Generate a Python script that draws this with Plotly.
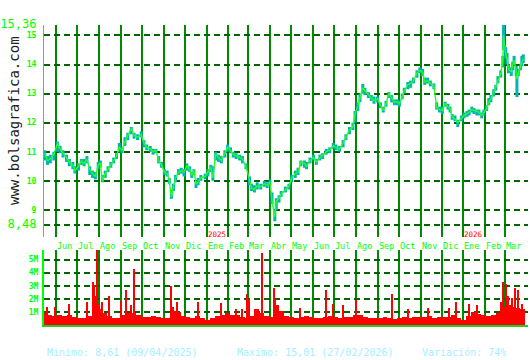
import plotly.graph_objects as go
import pandas as pd

# ---------------- data ----------------
price_dates = [
    "2024-05-16", "2024-05-20", "2024-05-24", "2024-05-29", "2024-06-03", "2024-06-07", "2024-06-11",
    "2024-06-16", "2024-06-20", "2024-06-25", "2024-06-28", "2024-07-03", "2024-07-07", "2024-07-11",
    "2024-07-15", "2024-07-19", "2024-07-23", "2024-07-27", "2024-07-31", "2024-08-03", "2024-08-06",
    "2024-08-10", "2024-08-14", "2024-08-18", "2024-08-22", "2024-08-26", "2024-08-30", "2024-09-03",
    "2024-09-07", "2024-09-11", "2024-09-16", "2024-09-20", "2024-09-25", "2024-09-30", "2024-10-04",
    "2024-10-08", "2024-10-13", "2024-10-17", "2024-10-21", "2024-10-25", "2024-10-29", "2024-11-02",
    "2024-11-06", "2024-11-09", "2024-11-12", "2024-11-15", "2024-11-18", "2024-11-22", "2024-11-26",
    "2024-11-30", "2024-12-04", "2024-12-08", "2024-12-11", "2024-12-14", "2024-12-17", "2024-12-20",
    "2024-12-24", "2024-12-30", "2025-01-03", "2025-01-07", "2025-01-10", "2025-01-14", "2025-01-18",
    "2025-01-22", "2025-01-27", "2025-01-31", "2025-02-04", "2025-02-08", "2025-02-12", "2025-02-17",
    "2025-02-21", "2025-02-26", "2025-03-03", "2025-03-06", "2025-03-10", "2025-03-14", "2025-03-19",
    "2025-03-24", "2025-03-28", "2025-04-01", "2025-04-04", "2025-04-08", "2025-04-10", "2025-04-14",
    "2025-04-17", "2025-04-23", "2025-04-28", "2025-05-02", "2025-05-07", "2025-05-11", "2025-05-15",
    "2025-05-20", "2025-05-23", "2025-05-28", "2025-06-02", "2025-06-06", "2025-06-11", "2025-06-15",
    "2025-06-20", "2025-06-25", "2025-06-30", "2025-07-04", "2025-07-09", "2025-07-14", "2025-07-18",
    "2025-07-23", "2025-07-28", "2025-07-31", "2025-08-04", "2025-08-07", "2025-08-11", "2025-08-14",
    "2025-08-19", "2025-08-23", "2025-08-27", "2025-09-01", "2025-09-05", "2025-09-09", "2025-09-13",
    "2025-09-17", "2025-09-21", "2025-09-25", "2025-09-29", "2025-10-02", "2025-10-06", "2025-10-09",
    "2025-10-14", "2025-10-18", "2025-10-22", "2025-10-27", "2025-10-31", "2025-11-04", "2025-11-07",
    "2025-11-11", "2025-11-15", "2025-11-20", "2025-11-24", "2025-11-28", "2025-12-02", "2025-12-06",
    "2025-12-10", "2025-12-13", "2025-12-16", "2025-12-20", "2025-12-24", "2025-12-29", "2026-01-02",
    "2026-01-06", "2026-01-09", "2026-01-13", "2026-01-16", "2026-01-20", "2026-01-23", "2026-01-27",
    "2026-01-30", "2026-02-03", "2026-02-06", "2026-02-09", "2026-02-13", "2026-02-16", "2026-02-19",
    "2026-02-23", "2026-02-26", "2026-02-27", "2026-03-02", "2026-03-04", "2026-03-06", "2026-03-10",
    "2026-03-12", "2026-03-14", "2026-03-17", "2026-03-18", "2026-03-20", "2026-03-23", "2026-03-25",
    "2026-03-27",
]
close = [
    10.95, 10.70, 10.75, 10.90, 11.28, 11.10, 10.93,
    10.80, 10.64, 10.55, 10.36, 10.50, 10.68, 10.60,
    10.75, 10.40, 10.25, 10.15, 10.55, 10.60, 10.00,
    10.25, 10.40, 10.55, 10.70, 10.85, 11.15, 11.05,
    11.35, 11.55, 11.80, 11.55, 11.50, 11.60, 11.30,
    11.15, 11.10, 11.00, 11.05, 10.70, 10.55, 10.30,
    10.25, 10.00, 9.45, 9.80, 10.10, 10.30, 10.35,
    10.30, 10.50, 10.40, 10.18, 10.35, 9.90, 9.95,
    10.10, 10.15, 10.30, 10.47, 10.10, 10.93, 10.80,
    10.70, 10.95, 11.15, 11.05, 10.90, 10.87, 10.80,
    10.75, 10.50, 10.00, 9.75, 9.70, 9.83, 9.80,
    9.90, 9.85, 9.95, 9.30, 8.75, 9.30, 9.40,
    9.55, 9.70, 9.80, 10.10, 10.24, 10.30, 10.64,
    10.60, 10.50, 10.70, 10.80, 10.65, 10.80, 10.87,
    11.00, 11.05, 11.20, 11.15, 11.10, 11.30, 11.50,
    11.75, 11.85, 12.30, 12.60, 12.90, 13.20, 13.10,
    12.94, 12.85, 12.76, 12.82, 12.60, 12.42, 12.65,
    13.00, 12.85, 12.70, 12.72, 12.65, 12.90, 13.10,
    13.30, 13.34, 13.45, 13.70, 13.80, 13.74, 13.40,
    13.45, 13.35, 13.28, 12.53, 12.45, 12.42, 12.65,
    12.55, 12.48, 12.19, 12.13, 12.00, 12.15, 12.25,
    12.30, 12.36, 12.45, 12.42, 12.38, 12.36, 12.25,
    12.35, 12.48, 12.70, 12.82, 13.05, 13.22, 13.45,
    13.68, 14.14, 15.01, 14.37, 14.20, 13.85, 13.74,
    14.00, 14.14, 13.80, 13.50, 13.70, 13.90, 14.10,
    14.20,
]
low = [
    10.70, 10.55, 10.60, 10.70, 11.00, 10.95, 10.80,
    10.65, 10.50, 10.40, 10.25, 10.35, 10.55, 10.50,
    10.60, 10.20, 10.10, 10.05, 10.40, 10.45, 9.95,
    10.10, 10.30, 10.45, 10.60, 10.75, 11.00, 10.95,
    11.20, 11.40, 11.60, 11.45, 11.40, 11.50, 11.15,
    11.05, 11.00, 10.90, 10.95, 10.60, 10.45, 10.20,
    10.15, 9.90, 9.38, 9.65, 9.95, 10.20, 10.25,
    10.15, 10.35, 10.30, 10.10, 10.20, 9.75, 9.85,
    10.00, 10.05, 10.15, 10.30, 10.00, 10.70, 10.65,
    10.60, 10.80, 11.00, 10.95, 10.80, 10.75, 10.70,
    10.60, 10.40, 9.85, 9.65, 9.60, 9.70, 9.70,
    9.80, 9.75, 9.85, 9.20, 8.61, 9.00, 9.25,
    9.45, 9.60, 9.70, 9.95, 10.10, 10.20, 10.50,
    10.45, 10.40, 10.60, 10.70, 10.55, 10.70, 10.75,
    10.90, 10.95, 11.10, 11.05, 11.00, 11.15, 11.40,
    11.60, 11.75, 12.00, 12.40, 12.70, 13.00, 12.95,
    12.85, 12.75, 12.65, 12.70, 12.50, 12.35, 12.55,
    12.85, 12.70, 12.60, 12.60, 12.55, 12.80, 13.00,
    13.15, 13.20, 13.35, 13.55, 13.70, 13.60, 13.30,
    13.35, 13.25, 13.15, 12.45, 12.35, 12.30, 12.55,
    12.45, 12.35, 12.10, 12.05, 11.85, 12.05, 12.15,
    12.20, 12.25, 12.35, 12.30, 12.25, 12.25, 12.15,
    12.25, 12.40, 12.60, 12.70, 12.90, 13.10, 13.35,
    13.55, 13.90, 14.50, 14.20, 14.00, 13.70, 13.60,
    13.80, 14.00, 13.60, 12.88, 13.60, 13.80, 13.95,
    14.05,
]
high = [
    11.05, 10.85, 10.90, 11.00, 11.35, 11.20, 11.05,
    10.90, 10.75, 10.65, 10.50, 10.60, 10.75, 10.75,
    10.85, 10.50, 10.35, 10.30, 10.65, 10.70, 10.20,
    10.35, 10.50, 10.65, 10.80, 10.95, 11.30, 11.15,
    11.50, 11.65, 11.85, 11.65, 11.60, 11.70, 11.40,
    11.25, 11.20, 11.10, 11.10, 10.85, 10.65, 10.40,
    10.35, 10.10, 9.70, 9.90, 10.20, 10.40, 10.45,
    10.40, 10.60, 10.50, 10.30, 10.40, 10.00, 10.10,
    10.20, 10.25, 10.40, 10.55, 10.50, 11.00, 10.90,
    10.85, 11.05, 11.25, 11.15, 11.00, 10.95, 10.90,
    10.85, 10.60, 10.15, 9.90, 9.85, 9.95, 9.90,
    10.00, 9.95, 10.05, 9.60, 9.00, 9.40, 9.50,
    9.65, 9.80, 9.90, 10.20, 10.35, 10.45, 10.70,
    10.70, 10.65, 10.80, 10.90, 10.75, 10.90, 10.95,
    11.10, 11.15, 11.30, 11.25, 11.20, 11.40, 11.60,
    11.85, 12.00, 12.40, 12.70, 13.00, 13.33, 13.20,
    13.05, 12.95, 12.90, 12.90, 12.70, 12.55, 12.75,
    13.05, 12.95, 12.80, 12.80, 12.75, 13.00, 13.20,
    13.40, 13.45, 13.55, 13.80, 13.90, 13.85, 13.55,
    13.55, 13.45, 13.35, 12.70, 12.55, 12.55, 12.72,
    12.65, 12.55, 12.30, 12.25, 12.10, 12.25, 12.35,
    12.40, 12.45, 12.55, 12.50, 12.45, 12.45, 12.35,
    12.45, 12.60, 12.85, 12.95, 13.15, 13.30, 13.60,
    13.80, 14.30, 15.36, 14.60, 14.40, 14.00, 13.90,
    14.10, 14.30, 13.95, 13.60, 13.85, 14.00, 14.30,
    14.35,
]

# weekly base volume (millions), weeks starting Monday 2024-05-13
vol_week = [
    0.9, 0.8, 0.7,
    0.8, 0.7, 0.75, 0.6,
    0.55, 0.5, 0.7, 1.4, 1.2,
    0.9, 0.7, 0.55, 0.5,
    0.75, 0.9, 0.95, 0.8, 0.6,
    0.65, 0.7, 0.6, 0.55,
    0.5, 1.1, 1.0, 0.7,
    0.6, 0.55, 0.7, 0.5, 0.35,
    0.5, 0.7, 0.8, 0.9,
    0.75, 0.8, 0.6, 0.55,
    0.7, 1.2, 0.9, 0.7, 0.6,
    1.5, 1.1, 0.7, 0.6,
    0.55, 0.65, 0.7, 0.6,
    0.55, 0.5, 0.6, 0.7, 0.65,
    0.55, 0.6, 0.65, 0.75,
    0.8, 0.6, 0.55, 0.5,
    0.55, 0.6, 0.5, 0.45, 0.55,
    0.6, 0.55, 0.6, 0.65,
    0.6, 0.7, 0.55, 0.65,
    0.6, 0.65, 0.75, 0.5, 0.4,
    0.7, 1.0, 0.85, 0.75,
    0.7, 0.75, 0.9, 1.4,
    1.5, 1.4, 1.3, 1.2,
]
spike_dates = [
    "2024-05-20", "2024-05-31", "2024-06-20", "2024-07-15", "2024-07-23", "2024-07-25",
    "2024-07-26", "2024-07-29", "2024-08-01", "2024-08-05", "2024-08-16", "2024-09-02",
    "2024-09-09", "2024-09-16", "2024-09-20", "2024-11-11", "2024-11-14", "2024-11-20",
    "2024-12-20", "2025-01-22", "2025-02-12", "2025-02-20", "2025-02-27", "2025-03-03",
    "2025-03-21", "2025-04-07", "2025-04-09", "2025-05-14", "2025-06-20", "2025-06-30",
    "2025-07-14", "2025-08-01", "2025-09-22", "2025-10-15", "2025-11-12", "2025-12-12",
    "2025-12-22", "2026-01-09", "2026-01-20", "2026-02-24", "2026-02-27", "2026-03-03",
    "2026-03-06", "2026-03-11", "2026-03-16", "2026-03-20", "2026-03-26",
]
spike_vol = [
    1.35, 1.4, 1.6, 1.75, 3.3, 3.0,
    2.2, 5.7, 1.6, 1.75, 2.25, 1.8,
    2.7, 1.5, 4.3, 2.95, 1.4, 1.75,
    1.75, 1.7, 1.2, 1.2, 2.4, 2.0,
    5.5, 2.8, 2.0, 1.3, 2.7, 1.6,
    1.5, 1.9, 2.4, 1.2, 1.3, 1.3,
    1.75, 1.6, 1.5, 1.75, 3.3, 3.1,
    2.25, 2.1, 2.8, 2.7, 1.6,
]

month_labels = ["Jun", "Jul", "Ago", "Sep", "Oct", "Nov", "Dic", "Ene", "Feb", "Mar", "Abr",
                "May", "Jun", "Jul", "Ago", "Sep", "Oct", "Nov", "Dic", "Ene", "Feb", "Mar"]
year_labels = ["2025", "2026"]
year_dates = ["2025-01-01", "2026-01-01"]
price_ticks = [8.48, 9, 10, 11, 12, 13, 14, 15, 15.36]
vol_ticks = [1, 2, 3, 4, 5]
stats_text = ["Minimo: 8,61 (09/04/2025)", "Maximo: 15,01 (27/02/2026)", "Variación: 74%"]

# ---------------- layout helpers ----------------
W, H = 530, 360
def py(p):
    return 1 - p / H
def px(p):
    return p / W

month_starts = pd.date_range("2024-06-01", periods=len(month_labels), freq="MS")
week_starts = pd.date_range("2024-05-13", periods=len(vol_week), freq="7D")
DAY = 86400000

MONO = "DejaVu Sans Mono"
LIME = "#00ff00"
VGRID = "#008a00"
HGRID = "#006400"

fig = go.Figure()

# high/low bars (teal)
fig.add_trace(go.Scatter(
    x=price_dates, y=close, mode="markers",
    marker=dict(size=1, color="rgba(0,0,0,0)"),
    error_y=dict(type="data", symmetric=False,
                 array=[h - c for h, c in zip(high, close)],
                 arrayminus=[c - l for c, l in zip(close, low)],
                 color="#00b4b4", thickness=3, width=0),
    hoverinfo="skip", showlegend=False, xaxis="x", yaxis="y"))
# close line (green)
fig.add_trace(go.Scatter(
    x=price_dates, y=close, mode="lines",
    line=dict(color="#22ff22", width=1.4),
    showlegend=False, xaxis="x", yaxis="y"))

# volume
fig.add_trace(go.Bar(
    x=week_starts, y=vol_week, width=[7 * DAY] * len(vol_week), offset=0,
    marker=dict(color="#ff0000", line=dict(width=0)),
    showlegend=False, xaxis="x2", yaxis="y2"))
fig.add_trace(go.Bar(
    x=spike_dates, y=spike_vol, width=[1.6 * DAY] * len(spike_vol),
    marker=dict(color="#ff0000", line=dict(width=0)),
    showlegend=False, xaxis="x2", yaxis="y2"))

xrange = ["2024-05-15", "2026-04-02 18:00"]
xdom = [px(44), px(528)]

p_per_px = (15.36 - 8.48) / (225 - 25)
main_bottom = 8.48 - (237 - 225) * p_per_px

def tick_txt(v):
    if v in (8.48, 15.36):
        return '<span style="font-size:12px">%s</span>' % ("%.2f" % v).replace(".", ",")
    return "<b>%d</b>" % v

fig.update_layout(
    width=W, height=H, margin=dict(l=0, r=0, t=0, b=0, autoexpand=False),
    paper_bgcolor="white", plot_bgcolor="white",
    bargap=0, barmode="overlay",
    xaxis=dict(domain=xdom, range=xrange, type="date", automargin=False,
               tickvals=month_starts, showticklabels=False, ticks="",
               showgrid=True, gridcolor=VGRID, gridwidth=2,
               showline=False, zeroline=False, anchor="y"),
    yaxis=dict(domain=[py(237), py(25)], range=[main_bottom, 15.36], automargin=False,
               tickvals=price_ticks, ticktext=[tick_txt(v) for v in price_ticks],
               tickfont=dict(family=MONO, size=8, color=LIME),
               ticks="", ticklabelstandoff=5,
               showgrid=True, gridcolor=HGRID, gridwidth=2, griddash="6px,4px",
               showline=True, linecolor=LIME, linewidth=1,
               zeroline=False, anchor="x"),
    xaxis2=dict(domain=xdom, range=xrange, type="date", automargin=False,
                tickvals=month_starts, showticklabels=False, ticks="",
                showgrid=True, gridcolor=VGRID, gridwidth=2,
                showline=True, linecolor="#22cc22", linewidth=2,
                zeroline=False, anchor="y2"),
    yaxis2=dict(domain=[py(325), py(250)], range=[0, 75 / 13.08], automargin=False,
                tickvals=vol_ticks, ticktext=["<b>%dM</b>" % v for v in vol_ticks],
                tickfont=dict(family=MONO, size=8, color=LIME),
                ticks="", ticklabelstandoff=2,
                showgrid=True, gridcolor=HGRID, gridwidth=2, griddash="6px,4px",
                showline=True, linecolor=LIME, linewidth=2,
                zeroline=False, anchor="x2"),
)

annotations = []
for d, lab in zip(month_starts, month_labels):
    annotations.append(dict(x=d, y=py(240), xref="x", yref="paper", text=lab,
                            showarrow=False, xanchor="left", yanchor="top", xshift=0,
                            borderpad=0,
                            font=dict(family=MONO, size=8.5, color=LIME)))
for d, lab in zip(year_dates, year_labels):
    annotations.append(dict(x=d, y=py(240), xref="x", yref="paper", text=lab,
                            showarrow=False, xanchor="left", yanchor="bottom", xshift=0,
                            borderpad=0,
                            font=dict(family=MONO, size=7.5, color="#ff0000")))
for xx, t in zip([45, 235, 420], stats_text):
    annotations.append(dict(x=px(xx), y=py(352), xref="paper", yref="paper", text=t,
                            showarrow=False, xanchor="left", yanchor="middle",
                            font=dict(family=MONO, size=10, color="#a6eeff")))
annotations.append(dict(x=px(14), y=py(121), xref="paper", yref="paper",
                        text="www.bolsagrafica.com", textangle=-90, showarrow=False,
                        xanchor="center", yanchor="middle",
                        font=dict(family=MONO, size=14, color="#222222")))
fig.update_layout(annotations=annotations)

fig.write_html("out.html")
